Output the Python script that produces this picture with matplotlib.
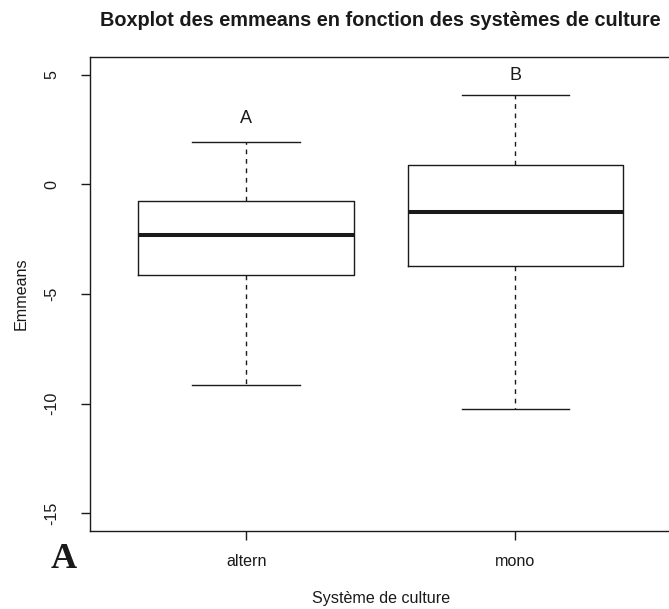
import matplotlib
matplotlib.use("Agg")
import matplotlib.pyplot as plt

# Data
categories = ["altern", "mono"]
whisker_low = [-9.17, -10.26]
q1 = [-4.13, -3.71]
medians = [-2.33, -1.26]
q3 = [-0.745, 0.90]
whisker_high = [1.95, 4.08]
letters = ["A", "B"]
letter_y = [3.0, 4.95]
yticks = [-15, -10, -5, 0, 5]

plt.rcParams['font.family'] = ['Liberation Sans', 'DejaVu Sans']

W, H = 669, 609
fig = plt.figure(figsize=(W / 100, H / 100), dpi=100)
left, right, top, bottom = 90, 671.6, 57.3, 530.7
ax = fig.add_axes([left / W, 1 - bottom / H, (right - left) / W, (bottom - top) / H])

stats = []
for i, c in enumerate(categories):
    stats.append(dict(label=c, whislo=whisker_low[i], q1=q1[i], med=medians[i],
                      q3=q3[i], whishi=whisker_high[i], fliers=[]))

col = "#1a1a1a"
ax.bxp(stats, positions=[1, 2], widths=0.8, capwidths=0.4, showfliers=False,
       boxprops=dict(color=col, linewidth=1.0),
       medianprops=dict(color=col, linewidth=2.9, solid_capstyle='butt'),
       whiskerprops=dict(color=col, linewidth=1.0, linestyle=(0, (3.4, 3.4))),
       capprops=dict(color=col, linewidth=1.0))

for i, (l, y) in enumerate(zip(letters, letter_y)):
    ax.text(i + 1, y, l, ha='center', va='center', fontsize=13, color=col)

ax.set_xlim(0.42, 2.58)
ax.set_ylim(-15.8, 5.8)
ax.set_xticks([1, 2])
ax.set_xticklabels(categories)
ax.set_yticks(yticks)
ax.set_yticklabels([str(t) for t in yticks], rotation=90, va='center')

for s in ax.spines.values():
    s.set_linewidth(1.0)
    s.set_color(col)
ax.tick_params(axis='both', length=6.5, width=1.0, color=col, labelsize=11.6,
               labelcolor=col)
ax.tick_params(axis='x', pad=10.6)
ax.tick_params(axis='y', pad=15.6)

ax.set_xlabel("Système de culture", fontsize=11.6, color=col, va='center')
ax.xaxis.set_label_coords(0.5, (bottom - 598) / (bottom - top))
ax.set_ylabel("Emmeans", fontsize=11.6, color=col, va='center', ha='center')
ax.yaxis.set_label_coords((20.7 - left) / (right - left), 0.5)

fig.text((left + right) / 2 / W, 1 - 21 / H,
         "Boxplot des emmeans en fonction des systèmes de culture",
         ha='center', va='center', fontsize=14.3, fontweight='bold', color=col)

fig.text(64 / W, 1 - 560 / H, "A", family=['Liberation Serif', 'DejaVu Serif'],
         fontweight='bold', fontsize=26, ha='center', va='center', color=col)

fig.savefig("out.png", dpi=100)
